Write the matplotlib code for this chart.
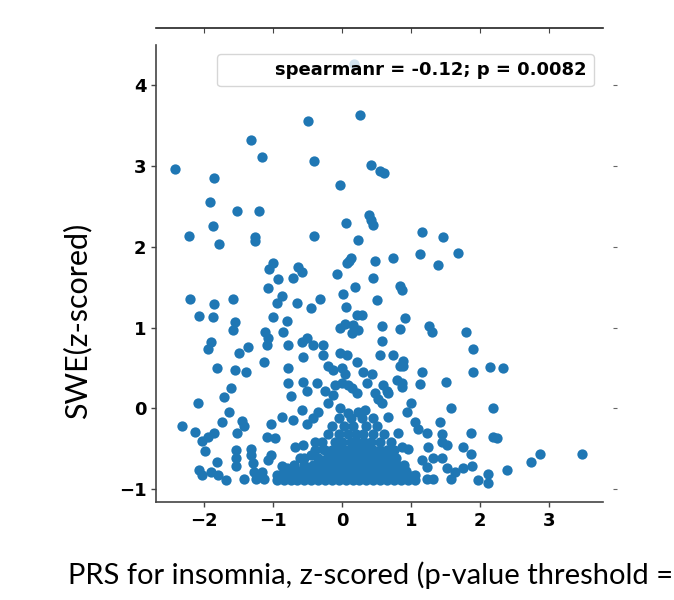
import matplotlib
matplotlib.use('Agg')
import matplotlib.pyplot as plt
from matplotlib.lines import Line2D
import numpy as np

# sparse upper points
upper_x = [0.17, 0.26, -0.49, -1.32, -1.17, -2.42, -1.86, -0.41, 0.41, 0.54, 0.61, -0.03, -1.91, -1.52,
           -1.20, -1.88, -2.22, -1.78, -1.26, -1.26, -0.41, 0.06, 0.39, 0.42, 0.45, 0.23, 1.16, 1.46, 1.68,
           1.12, 1.39, 0.74, 0.48, 0.10, 0.13, 0.07, -0.07, -0.64, -0.59, -1.00, -1.06]
upper_y = [4.27, 3.63, 3.56, 3.32, 3.11, 2.96, 2.85, 3.06, 3.01, 2.94, 2.92, 2.76, 2.55, 2.45,
           2.44, 2.26, 2.14, 2.04, 2.12, 2.07, 2.14, 2.30, 2.39, 2.33, 2.27, 2.08, 2.19, 2.12, 1.93,
           1.91, 1.78, 1.86, 1.82, 1.83, 1.86, 1.80, 1.67, 1.75, 1.69, 1.80, 1.72]

# left side
left_x = [-2.20, -1.86, -1.58, -2.07, -1.87, -1.55, -1.58, -1.90, -1.94, -1.49, -1.36, -1.81, -1.55,
          -1.39, -1.62, -1.71, -2.09, -1.64, -2.33, -2.13, -1.74, -1.46, -1.43, -1.52, -1.86, -1.94,
          -2.04, -1.99, -1.54, -1.54, -1.54, -1.32, -1.81, -2.07, -2.04, -1.90, -1.80, -1.68, -1.43,
          -1.32, -1.29, -1.28, -1.25]
left_y = [1.36, 1.29, 1.35, 1.14, 1.13, 1.07, 0.97, 0.82, 0.74, 0.69, 0.76, 0.50, 0.47,
          0.45, 0.25, 0.14, 0.06, -0.05, -0.22, -0.29, -0.17, -0.16, -0.22, -0.30, -0.30, -0.36,
          -0.41, -0.53, -0.52, -0.61, -0.71, -0.50, -0.66, -0.76, -0.83, -0.79, -0.82, -0.89, -0.87,
          -0.58, -0.68, -0.79, -0.87]

# centre-left
cl_x = [-0.93, -0.71, -1.07, -0.87, -0.94, -0.65, -0.32, -0.45, 0.01, 0.06, -1.01, -0.80, 0.04, -0.03,
        -1.12, -1.07, -1.09, -0.86, -0.78, -0.58, -0.51, -0.43, -0.28, -0.28, -0.57, -0.03, 0.07, -1.14,
        -0.78, -0.20, -0.13, 0.00, 0.04, -0.78, -0.75, -0.57, -0.51, -0.36, -0.25, -0.14, -0.10, 0.00,
        0.09, -0.20, -0.03, 0.09, -0.58, -0.35, -0.43, -0.51, -0.87, -0.71, -1.04, -1.09, -0.97, -0.68,
        -0.57, -1.04, -1.07, -0.39, -0.28, -0.61, -0.46, -0.87, -0.80, -0.94, -1.16, -1.14]
cl_y = [1.60, 1.61, 1.49, 1.39, 1.30, 1.31, 1.36, 1.24, 1.41, 1.25, 1.13, 1.08, 1.05, 0.99,
        0.94, 0.87, 0.78, 0.94, 0.79, 0.82, 0.87, 0.78, 0.78, 0.66, 0.64, 0.69, 0.66, 0.58,
        0.50, 0.52, 0.47, 0.50, 0.43, 0.31, 0.15, 0.33, 0.22, 0.32, 0.22, 0.16, 0.29, 0.31,
        0.29, 0.06, 0.00, -0.06, -0.02, -0.05, -0.12, -0.19, -0.11, -0.15, -0.19, -0.36, -0.37, -0.48,
        -0.46, -0.58, -0.64, -0.42, -0.50, -0.61, -0.58, -0.71, -0.74, -0.83, -0.79, -0.87]

# centre-right
cr_x = [0.45, 0.19, 0.83, 0.86, 0.51, 0.22, 0.29, 0.91, 0.16, 0.23, 0.14, 0.57, 0.83, 1.26, 1.30,
        0.57, 0.54, 0.74, 0.22, 0.88, 0.84, 0.88, 0.30, 0.43, 1.16, 0.36, 0.80, 0.87, 0.87, 1.13,
        0.59, 0.65, 0.67, 0.48, 0.52, 0.58, 0.14, 0.22, 0.99, 0.94, 0.23, 0.33, 0.67, 1.06, 1.10,
        0.81, 1.23, 0.87, 0.96, 1.25, 1.32, 1.16, 1.23, 1.23, 1.32, 1.06]
cr_y = [1.62, 1.50, 1.52, 1.46, 1.34, 1.15, 1.15, 1.12, 1.03, 0.97, 0.93, 1.02, 0.98, 1.02, 0.94,
        0.83, 0.66, 0.66, 0.57, 0.59, 0.53, 0.52, 0.45, 0.42, 0.45, 0.31, 0.35, 0.31, 0.26, 0.30,
        0.29, 0.22, 0.19, 0.19, 0.12, 0.07, 0.25, 0.19, 0.06, -0.05, -0.05, -0.02, -0.11, -0.17, -0.25,
        -0.30, -0.31, -0.48, -0.50, -0.48, -0.61, -0.64, -0.73, -0.88, -0.88, -0.83]

# right side
right_x = [1.80, 1.90, 1.90, 2.14, 2.33, 1.51, 1.58, 2.19, 1.42, 1.87, 2.19, 2.25, 1.45, 1.45, 1.52,
           1.75, 1.87, 1.45, 1.52, 1.64, 1.75, 1.88, 1.57, 1.97, 2.12, 2.12, 2.39, 2.74, 2.87, 3.48]
right_y = [0.95, 0.74, 0.45, 0.51, 0.50, 0.33, 0.00, 0.00, -0.17, -0.30, -0.36, -0.37, -0.32, -0.42, -0.45,
           -0.48, -0.56, -0.61, -0.74, -0.79, -0.74, -0.72, -0.87, -0.89, -0.81, -0.92, -0.76, -0.67, -0.57, -0.56]

# dense cluster near the floor
dense_x = [-0.95, -0.85, -0.75, -0.65, -0.55, -0.45, -0.35, -0.25, -0.15, -0.05, 0.05, 0.15, 0.25, 0.35,
           0.45, 0.55, 0.65, 0.75, 0.85, 0.95, 1.05,
           -0.90, -0.80, -0.70, -0.60, -0.50, -0.40, -0.30, -0.20, -0.10, 0.00, 0.10, 0.20, 0.30, 0.40,
           0.50, 0.60, 0.70, 0.80, 0.90, 1.00,
           -0.85, -0.75, -0.62, -0.50, -0.40, -0.28, -0.18, -0.08, 0.02, 0.12, 0.22, 0.32, 0.42, 0.52,
           0.62, 0.72, 0.82, 0.92,
           -0.70, -0.55, -0.42, -0.30, -0.20, -0.10, 0.00, 0.10, 0.20, 0.30, 0.40, 0.50, 0.60, 0.70,
           0.80, 0.90,
           -0.55, -0.35, -0.22, -0.12, -0.02, 0.08, 0.18, 0.28, 0.38, 0.48, 0.58, 0.68, 0.78,
           -0.40, -0.25, -0.15, -0.05, 0.05, 0.15, 0.25, 0.35, 0.45, 0.55, 0.65, 0.75,
           -0.30, -0.10, 0.00, 0.12, 0.22, 0.32, 0.42, 0.55, 0.70,
           -0.20, -0.05, 0.08, 0.20, 0.30, 0.45, 0.60,
           -0.15, 0.02, 0.15, 0.35, 0.50,
           -0.05, 0.12, 0.28, 0.45]
dense_y = [-0.89] * 21 + [-0.84] * 20 + [-0.78] * 18 + [-0.70] * 16 + [-0.62] * 13 + [-0.52] * 12 + \
          [-0.42] * 9 + [-0.32] * 7 + [-0.22] * 5 + [-0.12] * 4

x = np.array(upper_x + left_x + cl_x + cr_x + right_x + dense_x)
y = np.array(upper_y + left_y + cl_y + cr_y + right_y + dense_y)

xticks = [-2, -1, 0, 1, 2, 3]
yticks = [-1, 0, 1, 2, 3, 4]
stat_text = 'spearmanr = -0.12; p = 0.0082'

fig = plt.figure(figsize=(6.74, 6.0), dpi=100)
ax = fig.add_axes([156 / 674, 98 / 600, 447 / 674, 457 / 600])
ax.scatter(x, y, s=55, color='#1f77b4', linewidths=0)
ax.set_xlim(-2.70, 3.78)
ax.set_ylim(-1.16, 4.50)
ax.set_xticks(xticks)
ax.set_yticks(yticks)
for s in ['top', 'right']:
    ax.spines[s].set_visible(False)
for s in ['left', 'bottom']:
    ax.spines[s].set_color('#444444')
    ax.spines[s].set_linewidth(1.2)
ax.tick_params(colors='#444444', labelcolor='black', labelsize=13, width=1.0)
for lab in ax.get_xticklabels() + ax.get_yticklabels():
    lab.set_fontweight('bold')

leg = ax.legend([Line2D([], [], linestyle='none')], [stat_text], loc='upper right',
                prop={'weight': 'bold', 'size': 13}, framealpha=0.8, borderaxespad=0.5)

# empty marginal axes (top and right)
axt = fig.add_axes([156 / 674, 572 / 600, 447 / 674, 28 / 600], sharex=ax)
for s in ['top', 'right', 'left']:
    axt.spines[s].set_visible(False)
axt.spines['bottom'].set_color('#222222')
axt.spines['bottom'].set_linewidth(1.2)
axt.tick_params(axis='x', labelbottom=False, colors='#444444')
axt.tick_params(axis='y', left=False, labelleft=False)

axr = fig.add_axes([617 / 674, 98 / 600, 40 / 674, 457 / 600], sharey=ax)
for s in axr.spines.values():
    s.set_visible(False)
axr.tick_params(axis='y', labelleft=False, length=3, colors='#666666')
axr.tick_params(axis='x', bottom=False, labelbottom=False)

fig.text(77 / 674, 279 / 600, 'SWE(z-scored)', rotation=90, ha='center', va='center',
         family='Lato', fontsize=22)
fig.text(68 / 674, 25 / 600, 'PRS for insomnia, z-scored (p-value threshold =', ha='left',
         va='center', family='Lato', fontsize=21)

fig.savefig('out.png', dpi=100)
